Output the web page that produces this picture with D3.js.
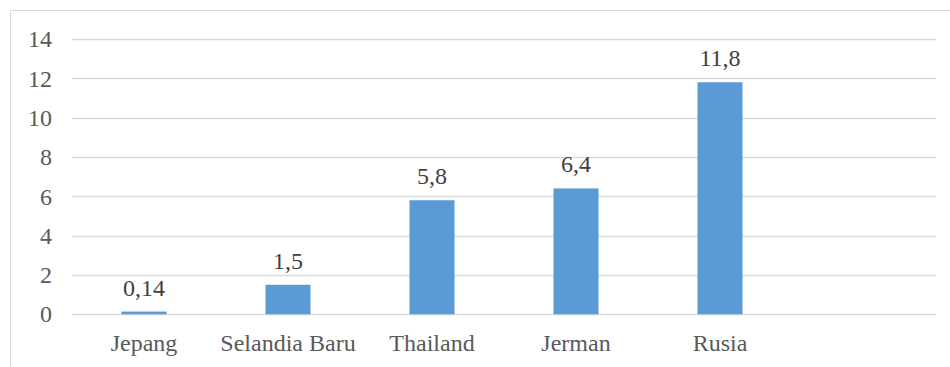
<!DOCTYPE html>
<html>
<head>
<meta charset="utf-8">
<script src="https://cdn.jsdelivr.net/npm/d3@7"></script>
<style>
  body { margin: 0; background: #fff; }
  svg { display: block; }
  svg text { font-family: "Liberation Serif", "Times New Roman", serif; }
</style>
</head>
<body>
<div id="chart"></div>
<script>
var categories = ["Jepang", "Selandia Baru", "Thailand", "Jerman", "Rusia", ""];
var values = [0.14, 1.5, 5.8, 6.4, 11.8, null];
var valueLabels = ["0,14", "1,5", "5,8", "6,4", "11,8", ""];
var yTicks = [0, 2, 4, 6, 8, 10, 12, 14];

function main() {
    var W = 950, H = 367;
    var margin = { top: 39, right: 14, bottom: 52.7, left: 72 },
        width = W - margin.left - margin.right,
        height = H - margin.top - margin.bottom;

    var root = d3.select("#chart")
        .append("svg")
        .attr("width", W)
        .attr("height", H);

    // chart frame
    root.append("rect")
        .attr("x", 10.5).attr("y", 10.5)
        .attr("width", W).attr("height", H)
        .style("fill", "none")
        .style("stroke", "#d9d9d9")
        .style("stroke-width", 1);

    var svg = root.append("g")
        .attr("transform", "translate(" + margin.left + "," + margin.top + ")");

    var y = d3.scaleLinear()
        .domain([0, 14])
        .range([height, 0]);

    var x = d3.scaleBand()
        .domain(categories)
        .range([0, width])
        .paddingInner(0.6875)
        .paddingOuter(0.34375);

    var fontSize = "24px";

    // gridlines
    svg.append("g")
        .selectAll("line")
        .data(yTicks)
        .enter()
        .append("line")
        .attr("x1", 0).attr("x2", width)
        .attr("y1", d => Math.round(y(d)) + 0.5)
        .attr("y2", d => Math.round(y(d)) + 0.5)
        .style("stroke", "#d9d9d9")
        .style("stroke-width", 1.4);

    // y axis labels
    var yAxis = svg.append("g")
        .call(d3.axisLeft(y).tickValues(yTicks).tickSize(0).tickPadding(20))
    yAxis.attr("font-family", null);
    yAxis.select(".domain").remove();
    yAxis.selectAll("text")
        .style("font-size", fontSize)
        .style("fill", "#595959");

    // x axis labels
    var xAxis = svg.append("g")
        .attr("transform", "translate(0," + height + ")")
        .call(d3.axisBottom(x).tickSize(0).tickPadding(20))
    xAxis.attr("font-family", null);
    xAxis.select(".domain").remove();
    xAxis.selectAll("text")
        .style("font-size", fontSize)
        .style("fill", "#595959");

    var rows = categories.map((c, i) => ({ cat: c, val: values[i], lab: valueLabels[i] }))
        .filter(d => d.val != null);

    svg.selectAll("rect.bar")
        .data(rows)
        .enter()
        .append("rect")
        .attr("class", "bar")
        .attr("x", d => x(d.cat))
        .attr("width", x.bandwidth())
        .attr("y", d => y(d.val))
        .attr("height", d => y(0) - y(d.val))
        .style("fill", "#5b9bd5");

    svg.selectAll("text.val")
        .data(rows)
        .enter()
        .append("text")
        .attr("class", "val")
        .attr("x", d => x(d.cat) + x.bandwidth() / 2)
        .attr("y", d => y(d.val) - 16)
        .attr("text-anchor", "middle")
        .style("font-size", fontSize)
        .style("fill", "#404040")
        .text(d => d.lab);
}

main();
</script>
</body>
</html>
